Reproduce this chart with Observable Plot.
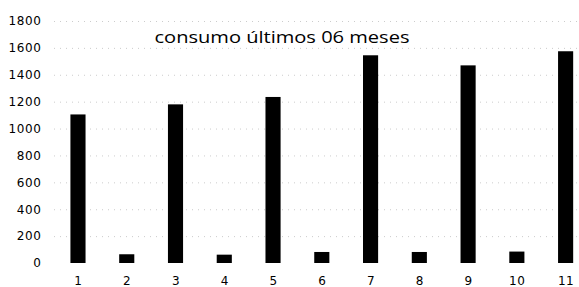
<!DOCTYPE html>
<html>
<head>
<meta charset="utf-8">
<script src="https://cdn.jsdelivr.net/npm/d3@7"></script>
<script src="https://cdn.jsdelivr.net/npm/@observablehq/plot@0.6"></script>
<style>
  html, body { margin: 0; padding: 0; background: #fff; }
  #chart svg { display: block; }
</style>
</head>
<body>
<div id="chart"></div>
<script>
const months = [1, 2, 3, 4, 5, 6, 7, 8, 9, 10, 11];
const consumo = [1105, 65, 1180, 62, 1235, 82, 1545, 82, 1470, 85, 1575];
const yTicks = [0, 200, 400, 600, 800, 1000, 1200, 1400, 1600, 1800];
const title = "consumo últimos 06 meses";

const data = months.map((m, i) => ({month: m, value: consumo[i]}));

const chart = Plot.plot({
  width: 579,
  height: 287,
  marginTop: 21,
  marginBottom: 24,
  marginLeft: 54,
  marginRight: 0,
  style: {background: "#fff", color: "#000", fontFamily: "DejaVu Sans", fontSize: "12px"},
  x: {domain: months, range: [53.6, 590], paddingInner: 0.69, paddingOuter: 0.345, align: 0.5, round: false, label: null},
  y: {domain: [0, 1800], ticks: yTicks, label: null},
  marks: [
    Plot.ruleY(yTicks.filter(d => d > 0), {stroke: "#aaa", strokeWidth: 1, strokeDasharray: "1,5", strokeOpacity: 0.6}),
    Plot.barY(data, {x: "month", y: "value", fill: "#000"}),
    Plot.axisY({ticks: yTicks, tickSize: 0, tickPadding: 13, tickFormat: d => String(d), label: null, fontSize: 12}),
    Plot.axisX({tickSize: 0, tickPadding: 13, label: null, fontSize: 12}),
    Plot.text([title], {frameAnchor: "top-left", dx: 227.5, dy: 21, lineAnchor: "bottom", textAnchor: "middle", fontSize: 16, fontFamily: "Open Sans", fill: "#000", className: "title-text"})
  ]
});
document.getElementById("chart").appendChild(chart);
d3.select(chart).selectAll(".title-text text").attr("textLength", 255).attr("lengthAdjust", "spacingAndGlyphs");
d3.select(chart).selectAll("[aria-label='y-axis tick label'] text, [aria-label='x-axis tick label'] text").style("letter-spacing", "0.6px");
</script>
</body>
</html>
